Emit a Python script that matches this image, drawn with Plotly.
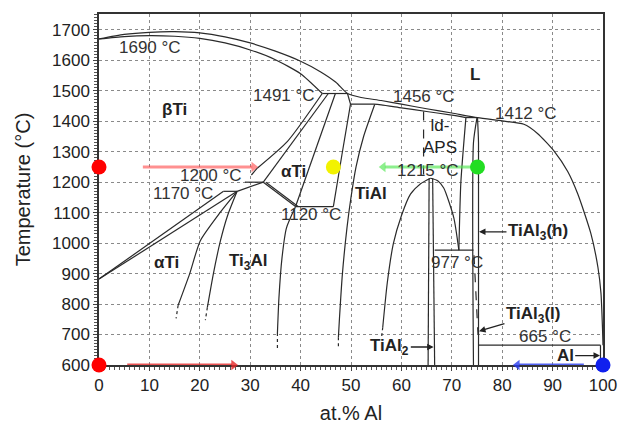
import plotly.graph_objects as go

# ---------------- data (at.% Al, temperature in °C) ----------------
liq_x = [0, 5, 10, 15, 20, 25, 30, 35, 40, 44, 47, 49.3, 52, 56, 60, 65, 70, 75.1,
         80, 84.3, 87, 90.3, 93, 95, 97.6, 99, 99.6, 99.9, 100]
liq_t = [1670, 1685, 1692, 1694, 1690, 1677, 1657, 1630, 1597, 1562, 1528, 1491, 1478,
         1468, 1456, 1441, 1427, 1412, 1401, 1390, 1360, 1302, 1235, 1161, 1031, 920, 835, 720, 665]

bsol_x = [0, 5, 10, 15, 20, 25, 30, 35, 40, 44.3]
bsol_t = [1670, 1678, 1681, 1679, 1672, 1657, 1634, 1602, 1556, 1491]

gsol_x = [49.9, 54.5, 56, 60, 65, 70, 72.8]
gsol_t = [1456, 1456, 1454, 1444, 1432, 1420, 1412]

# invariant (horizontal) lines: [x_start, x_end, temperature]
inv_x0 = [44.3, 72.8, 29.0, 24.7, 39.0, 66.6, 75.3]
inv_x1 = [49.3, 75.1, 32.6, 27.4, 46.5, 74.3, 99.5]
inv_t = [1491, 1412, 1200, 1170, 1120, 977, 665]

# solid boundaries
b1_x, b1_t = [44.3, 37.4, 31.4], [1491, 1334, 1246]
b1d_x, b1d_t = [31.4, 29.0], [1246, 1200]
b1b_x, b1b_t = [45.5, 32.6], [1491, 1200]
b2_x, b2_t = [46.9, 39.0], [1491, 1120]
bs_x, bs_t = [49.3, 49.9], [1491, 1456]
b3_x, b3_t = [49.9, 48.2, 46.5], [1456, 1290, 1120]
b4_x = [54.7, 52.5, 51.0, 50.0, 49.2, 48.3, 47.7, 47.5]
b4_t = [1455, 1350, 1250, 1150, 1050, 900, 750, 691]
b4d_x, b4d_t = [47.5, 47.5], [691, 655]
ol_x, ol_t = [0, 24.7], [882, 1170]
or_x, or_t = [0, 27.4], [882, 1170]
a2top_x, a2top_t = [27.4, 32.6], [1170, 1200]
dbl1_x, dbl1_t = [32.6, 39.0], [1200, 1120]
dbl2_x, dbl2_t = [33.1, 39.5], [1200, 1120]
f1_x, f1_t = [27.4, 24.0, 20.1, 18.0, 15.7], [1170, 1100, 1008, 900, 796]
f1d_x, f1d_t = [15.7, 15.3], [796, 753]
f2_x, f2_t = [27.4, 25.5, 24.1, 22.7, 21.5], [1170, 1090, 1008, 900, 789]
f2d_x, f2d_t = [21.5, 21.1], [789, 747]
a2r_x, a2r_t = [39.0, 37.2, 36.3, 35.7, 35.4], [1120, 1050, 950, 820, 705]
a2rd_x, a2rd_t = [35.4, 35.4], [705, 655]
dl_x = [65.8, 63.8, 61.8, 60.0, 58.4, 57.2, 56.3]
dl_t = [1213, 1195, 1161, 1090, 998, 870, 724]
dld_x, dld_t = [56.3, 56.1], [724, 695]
dr_x, dr_t = [65.8, 67.2, 68.4, 70.4, 71.4], [1213, 1205, 1181, 1083, 977]
t2a_x, t2a_t = [65.5, 65.3], [1213, 600]
t2b_x, t2b_t = [66.2, 66.6], [1213, 600]
aps_x, aps_t = [64.4, 64.4], [1432, 1215]
r1412_x, r1412_t = [72.8, 71.8, 71.4], [1412, 1200, 977]
t3a_x, t3a_t = [75.0, 74.3, 74.3], [1412, 1330, 600]
t3b_x, t3b_t = [75.1, 75.3, 75.3], [1412, 1330, 600]
t3d_x, t3d_t = [74.4, 75.2], [960, 700]
alsol_x, alsol_t = [99.5, 99.5], [665, 600]

# labels
temp_text = ["1690 °C", "1491 °C", "1456 °C", "1412 °C", "1200 °C", "1170 °C",
             "1120 °C", "1215 °C", "977 °C", "665 °C"]
temp_x = [10.1, 36.8, 64.4, 84.8, 22.3, 16.7, 42.1, 65.2, 71.1, 88.5]
temp_t = [1641, 1485, 1482, 1426, 1221, 1163, 1093, 1237, 938, 694]

phase_text = ["βTi", "αTi", "αTi", "Ti<sub>3</sub>Al", "TiAl", "L", "ld-<br>APS"]
phase_x = [15.0, 38.6, 13.4, 29.6, 54.0, 74.6, 67.7]
phase_t = [1439, 1234, 938, 938, 1163, 1552, 1350]

ptr_text = ["TiAl<sub>2</sub>", "TiAl<sub>3</sub>(h)", "TiAl<sub>3</sub>(l)", "Al"]
ptr_tx = [57.7, 87.1, 86.1, 92.5]
ptr_tt = [659, 1037, 764, 631]
ptr_x = [66.4, 75.4, 75.4, 99.4]
ptr_t = [659, 1037, 711, 631]

dot_x = [0, 0, 46.5, 75.1, 100]
dot_t = [1250, 600, 1250, 1250, 600]
dot_c = ["#ff0000", "#ff0000", "#f2f200", "#22dd22", "#1020ee"]

arr_x0 = [8.7, 5.6, 73.8, 96.2]
arr_x1 = [31.6, 27.6, 55.5, 82.1]
arr_t = [1250, 600, 1250, 600]
arr_c = ["rgba(255,70,70,0.6)", "rgba(230,40,40,0.8)", "rgba(80,230,80,0.65)", "rgba(40,60,240,0.8)"]

x_ticks = [0, 10, 20, 30, 40, 50, 60, 70, 80, 90, 100]
t_ticks = [600, 700, 800, 900, 1000, 1100, 1200, 1300, 1400, 1500, 1600, 1700]

# ---------------- figure ----------------
LC = "#2a2a2a"
fig = go.Figure()


def add_line(x, y, dash="solid", width=1.2):
    fig.add_trace(go.Scatter(x=x, y=y, mode="lines", line=dict(color=LC, width=width, dash=dash,
                             shape="spline", smoothing=0.6), hoverinfo="skip", showlegend=False))


add_line(liq_x, liq_t)
add_line(bsol_x, bsol_t)
add_line(gsol_x, gsol_t)
for a, b, t in zip(inv_x0, inv_x1, inv_t):
    add_line([a, b], [t, t])
for xs, ts in [(b1_x, b1_t), (b1b_x, b1b_t), (b2_x, b2_t), (bs_x, bs_t), (b3_x, b3_t), (b4_x, b4_t),
               (ol_x, ol_t), (or_x, or_t), (a2top_x, a2top_t), (dbl1_x, dbl1_t), (dbl2_x, dbl2_t),
               (f1_x, f1_t), (f2_x, f2_t), (a2r_x, a2r_t), (dl_x, dl_t), (dr_x, dr_t),
               (t2a_x, t2a_t), (t2b_x, t2b_t), (r1412_x, r1412_t), (t3a_x, t3a_t), (t3b_x, t3b_t),
               (alsol_x, alsol_t)]:
    add_line(xs, ts)
for xs, ts in [(b1d_x, b1d_t), (aps_x, aps_t), (t3d_x, t3d_t)]:
    add_line(xs, ts, dash="dash")
for xs, ts in [(b4d_x, b4d_t), (f1d_x, f1d_t), (f2d_x, f2d_t), (a2rd_x, a2rd_t), (dld_x, dld_t)]:
    add_line(xs, ts, dash="dot")

# coloured arrows (shaft + triangular head)
for x0, x1, t, c in zip(arr_x0, arr_x1, arr_t, arr_c):
    right = x1 > x0
    shaft_end = x1 - 1.2 if right else x1 + 1.2
    fig.add_trace(go.Scatter(x=[x0, shaft_end], y=[t, t], mode="lines", cliponaxis=False,
                             line=dict(color=c, width=3), hoverinfo="skip", showlegend=False))
    fig.add_trace(go.Scatter(x=[x1 - 0.9 if right else x1 + 0.9], y=[t], mode="markers", cliponaxis=False,
                             marker=dict(symbol="triangle-right" if right else "triangle-left",
                                         size=9, color=c, line=dict(width=0)),
                             hoverinfo="skip", showlegend=False))

fig.add_trace(go.Scatter(x=dot_x, y=dot_t, mode="markers", cliponaxis=False,
                         marker=dict(size=15, color=dot_c, line=dict(width=0)),
                         hoverinfo="skip", showlegend=False))

FONT = "Liberation Sans, Arial, Helvetica, sans-serif"
ann = []
for s, x, t in zip(temp_text, temp_x, temp_t):
    ann.append(dict(x=x, y=t, text=s, showarrow=False, font=dict(size=17, color="#333", family=FONT)))
for s, x, t in zip(phase_text, phase_x, phase_t):
    bold = not s.startswith("ld")
    ann.append(dict(x=x, y=t, text=("<b>%s</b>" % s) if bold else s, showarrow=False,
                    font=dict(size=17, color="#222", family=FONT)))
for s, tx, tt, x, t in zip(ptr_text, ptr_tx, ptr_tt, ptr_x, ptr_t):
    ann.append(dict(x=x, y=t, ax=tx, ay=tt, axref="x", ayref="y", text="<b>%s</b>" % s,
                    showarrow=True, arrowhead=2, arrowsize=1, arrowwidth=1.3, arrowcolor="#222",
                    font=dict(size=17, color="#222", family=FONT)))

axis_common = dict(showline=True, mirror=True, linecolor="#333", linewidth=1.5,
                   showgrid=True, gridcolor="#8a8a8a", gridwidth=1, griddash="dot",
                   ticks="outside", ticklen=4, tickcolor="#444", zeroline=False, automargin=False,
                   layer="below traces", tickfont=dict(size=17, color="#222", family=FONT))

fig.update_layout(
    width=619, height=424,
    margin=dict(l=99, r=16, t=14, b=59),
    paper_bgcolor="white", plot_bgcolor="white",
    font=dict(family=FONT),
    annotations=ann,
    xaxis=dict(range=[0, 100], tickvals=x_ticks, ticktext=[str(v) for v in x_ticks],
               minor=dict(dtick=1, ticklen=3, ticks="outside", tickcolor="#555", showgrid=False),
               title=dict(text="at.% Al", font=dict(size=20, color="#222", family=FONT), standoff=14),
               **axis_common),
    yaxis=dict(range=[600, 1752], tickvals=t_ticks, ticktext=[str(v) for v in t_ticks],
               minor=dict(dtick=10, ticklen=3, ticks="outside", tickcolor="#555", showgrid=False),
               title=dict(text="Temperature (°C)", font=dict(size=20, color="#222", family=FONT), standoff=16),
               **axis_common),
)

fig.write_html("out.html")
